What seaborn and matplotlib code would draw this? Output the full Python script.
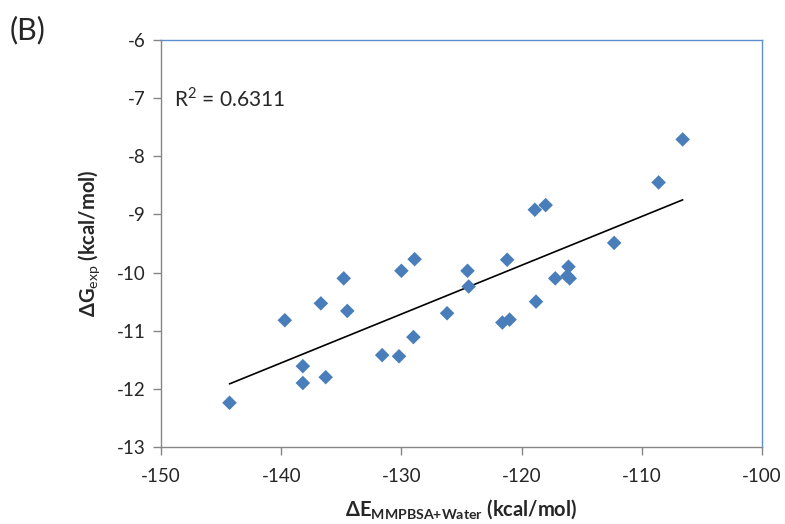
import matplotlib
matplotlib.use('Agg')
import matplotlib.pyplot as plt
import seaborn as sns
import pandas as pd

# values
dE = [-144.3, -139.7, -138.2, -138.2, -136.7, -136.3, -134.5, -134.8, -131.6, -130.2,
      -129.0, -130.0, -128.9, -126.2, -124.5, -124.4, -121.6, -121.0, -121.2, -118.8,
      -118.9, -118.0, -117.2, -116.1, -116.2, -116.0, -112.3, -108.6, -106.6]
dG = [-12.24, -10.82, -11.61, -11.90, -10.53, -11.80, -10.66, -10.10, -11.42, -11.44,
      -11.11, -9.97, -9.77, -10.70, -9.97, -10.24, -10.86, -10.81, -9.78, -10.50,
      -8.92, -8.84, -10.10, -9.90, -10.06, -10.10, -9.49, -8.45, -7.71]
r2_label = r'R$^{2}$ = 0.6311'
x_ticks = [-150, -140, -130, -120, -110, -100]
y_ticks = [-13, -12, -11, -10, -9, -8, -7, -6]

df = pd.DataFrame({'dE': dE, 'dG': dG})

sns.set_style('white')
plt.rcParams['font.family'] = ['Lato', 'DejaVu Sans']
plt.rcParams['axes.unicode_minus'] = False
plt.rcParams['mathtext.fontset'] = 'custom'
plt.rcParams['mathtext.rm'] = 'Lato'
plt.rcParams['mathtext.bf'] = 'Lato:bold'

fig = plt.figure(figsize=(7.85, 5.24), dpi=100)
ax = fig.add_axes([0.2051, 0.147, 0.7656, 0.7767])

# trend line + points
sns.regplot(data=df, x='dE', y='dG', scatter=False, ci=None, truncate=True,
            line_kws={'color': 'black', 'lw': 1.2}, ax=ax)
sns.scatterplot(data=df, x='dE', y='dG', marker='D', s=55, color='#4a7ebb',
                edgecolor='none', ax=ax, zorder=3)

ax.set_xlim(-150, -100)
ax.set_ylim(-13, -6)
ax.set_xticks(x_ticks)
ax.set_yticks(y_ticks)
ax.tick_params(axis='both', direction='out', length=6, width=1, color='#868686',
               labelsize=13.5, bottom=True, left=True)
ax.tick_params(axis='x', pad=9)
ax.tick_params(axis='y', pad=5)

for s in ['left', 'bottom']:
    ax.spines[s].set_color('#868686')
    ax.spines[s].set_linewidth(1)
for s in ['top', 'right']:
    ax.spines[s].set_color('#5b8fd0')
    ax.spines[s].set_linewidth(1)

ax.set_xlabel(r'$\mathbf{\Delta E_{MMPBSA{+}Water}}$ (kcal/mol)', fontsize=14.5,
              fontweight='bold', labelpad=9)
ax.set_ylabel(r'$\mathbf{\Delta G}_{\mathrm{exp}}$ (kcal/mol)', fontsize=14.5,
              fontweight='bold', labelpad=10)

ax.text(0.022, 0.855, r2_label, transform=ax.transAxes, fontsize=15, va='center')
fig.text(0.012, 0.942, '(B)', fontsize=22, va='center')

fig.savefig('out.png', dpi=100)
